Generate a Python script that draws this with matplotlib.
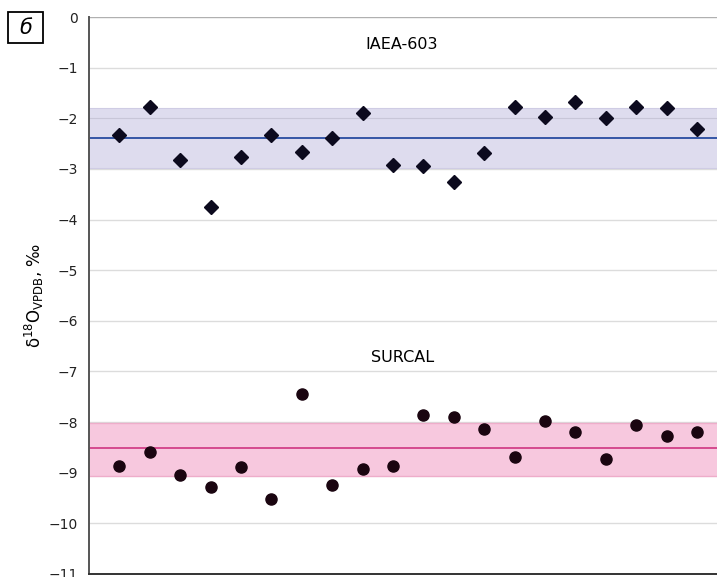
import numpy as np
import matplotlib.pyplot as plt
from matplotlib.patches import Rectangle

# measurement number
run = np.arange(1, 21)

# IAEA-603, d18O VPDB
iaea = [-2.33, -1.77, -2.83, -3.75, -2.77, -2.33, -2.67, -2.38, -1.90, -2.92,
        -2.94, -3.25, -2.68, -1.77, -1.98, -1.67, -2.00, -1.77, -1.79, -2.22]
iaea_mean = -2.38
iaea_band = (-2.99, -1.80)

# SURCAL, d18O VPDB
surcal = [-8.87, -8.59, -9.05, -9.28, -8.89, -9.51, -7.45, -9.24, -8.92, -8.87,
          -7.85, -7.90, -8.14, -8.68, -7.98, -8.20, -8.72, -8.06, -8.27, -8.20]
surcal_mean = -8.52
surcal_band = (-9.06, -8.02)

yticks = list(range(0, -12, -1))
ytick_labels = ['0'] + ['\u2212' + str(-t) for t in yticks[1:]]

fig = plt.figure(figsize=(7.17, 5.77), dpi=100)
ax = fig.add_axes([0.1241, 0.0052, 0.8759, 0.9653])

ax.set_xlim(0, 20.66)
ax.set_ylim(-11, 0)

# gridlines
for t in yticks[1:-1]:
    ax.axhline(t, color='#dcdcdc', lw=1.0, zorder=0)
ax.axhline(0, color='#b0b0b0', lw=1.0, zorder=0)

# IAEA-603 band
ax.axhspan(iaea_band[0], iaea_band[1], color='#dedcee', zorder=1, lw=0)
ax.axhline(iaea_band[0], color='#cfcce4', lw=0.8, zorder=1)
ax.axhline(iaea_band[1], color='#cfcce4', lw=0.8, zorder=1)
ax.axhline(-2, color='#c8c6d8', lw=0.8, zorder=1)
ax.axhline(iaea_mean, color='#3556a6', lw=1.4, zorder=2)

# SURCAL band
ax.axhspan(surcal_band[0], surcal_band[1], color='#f7c8de', zorder=1, lw=0)
ax.axhline(surcal_band[0], color='#eeadca', lw=1.0, zorder=1)
ax.axhline(surcal_band[1], color='#eeadca', lw=1.0, zorder=1)
ax.axhline(surcal_mean, color='#d54a8e', lw=1.4, zorder=2)

ax.plot(run, iaea, 'D', color='#0c0a1e', ms=7, zorder=3)
ax.plot(run, surcal, 'o', color='#1a0510', ms=8, zorder=3)

ax.text(10.3, -0.55, 'IAEA-603', ha='center', va='center', fontsize=11.5)
ax.text(10.3, -6.72, 'SURCAL', ha='center', va='center', fontsize=11.5)

ax.set_yticks(yticks)
ax.set_yticklabels(ytick_labels, fontsize=10, color='#222222')
ax.set_xticks([])
ax.tick_params(axis='y', length=0, pad=8)

for s in ['top', 'right']:
    ax.spines[s].set_visible(False)
ax.spines['left'].set_color('#555555')
ax.spines['left'].set_linewidth(1.4)
ax.spines['bottom'].set_color('#333333')
ax.spines['bottom'].set_linewidth(1.4)

ax.set_ylabel(r'δ$^{18}$O$_{\mathrm{VPDB}}$, ‰', fontsize=12, labelpad=2)

# panel letter in a box
fig.patches.append(Rectangle((8 / 717, 1 - 43 / 577), 35 / 717, 31 / 577,
                             transform=fig.transFigure, fc='white', ec='black', lw=1.3))
fig.text(25.5 / 717, 1 - 27.5 / 577, 'б', fontsize=15, style='italic',
         ha='center', va='center')

fig.savefig('out.png', dpi=100)
